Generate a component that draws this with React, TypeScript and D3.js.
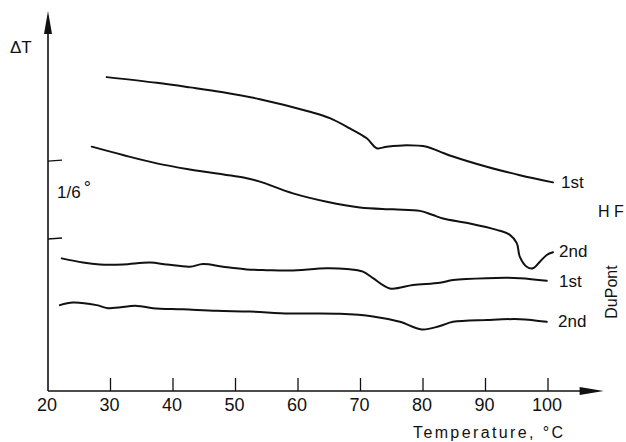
import React from "react";
import * as d3 from "d3";

// Temperature (°C) and ΔT (arbitrary units)
const hf1T = [29.4, 37.4, 42.7, 48.0, 53.9, 61.9, 65.1, 68.3, 71.0, 72.6, 74.2, 77.4, 80.6, 82.7, 84.8, 90.2, 95.5, 100.8];
const hf1V = [82.6, 81.1, 79.9, 78.6, 76.8, 73.5, 71.8, 69.1, 66.5, 63.9, 64.3, 64.7, 64.3, 63.0, 61.7, 59.0, 56.8, 54.9];

const hf2T = [27.0, 32.0, 37.4, 42.7, 51.8, 53.9, 59.2, 64.6, 69.9, 75.2, 79.5, 81.6, 83.2, 87.5, 91.8, 93.9, 95.0, 95.5, 96.6, 97.6, 98.7, 99.8, 100.8];
const hf2V = [64.3, 62.1, 59.9, 58.3, 56.0, 55.1, 52.0, 49.8, 48.3, 47.8, 47.4, 46.3, 45.4, 44.1, 42.4, 41.1, 38.9, 35.3, 32.7, 32.3, 34.0, 35.8, 36.5];

const dp1T = [22.2, 25.6, 28.3, 32.0, 36.3, 39.0, 42.7, 44.8, 48.0, 51.8, 55.0, 58.7, 64.6, 67.8, 70.4, 72.0, 74.7, 78.4, 82.7, 84.8, 90.2, 95.5, 99.8];
const dp1V = [34.9, 33.8, 33.3, 33.3, 33.8, 33.3, 32.7, 33.4, 32.7, 32.0, 31.8, 31.7, 32.3, 32.1, 31.4, 29.7, 27.0, 27.9, 28.5, 29.2, 29.7, 29.7, 29.0];

const dp2T = [21.9, 24.0, 27.8, 29.6, 34.2, 36.8, 41.6, 47.0, 52.3, 58.7, 66.7, 72.0, 76.3, 79.8, 82.7, 84.8, 90.2, 95.5, 99.8];
const dp2V = [22.6, 23.3, 22.6, 21.8, 22.4, 21.8, 21.5, 21.1, 20.9, 20.4, 20.3, 19.6, 18.2, 16.2, 17.1, 18.2, 18.7, 18.9, 18.2];

const xTicks = [20, 30, 40, 50, 60, 70, 80, 90, 100];
const yTicks = [60.5, 40.0];
const seriesLabels = ["1st", "2nd", "1st", "2nd"];

export default function App() {
  const W = 626, H = 442;
  const x = d3.scaleLinear().domain([20, 100]).range([48, 548]);
  const y = d3.scaleLinear().domain([0, 100]).range([391, 11]);
  const line = d3
    .line<[number, number]>()
    .x((d) => x(d[0]))
    .y((d) => y(d[1]))
    .curve(d3.curveCatmullRom.alpha(0.5));
  const zip = (a: number[], b: number[]) => a.map((t, i) => [t, b[i]] as [number, number]);
  const series = [zip(hf1T, hf1V), zip(hf2T, hf2V), zip(dp1T, dp1V), zip(dp2T, dp2V)];
  const font = "'Liberation Sans', Arial, sans-serif";
  const ink = "#111";
  const x0 = x(20);
  const yb = y(0);
  const xEnd = x(108.9);
  const yTop = y(100);

  return (
    <svg width={W} height={H} style={{ position: "absolute", left: 0, top: 0, background: "#fff" }} fontFamily={font}>
      <rect width={W} height={H} fill="#fff" />
      {/* axes */}
      <line x1={x0} y1={yb} x2={xEnd - 22} y2={yb} stroke={ink} strokeWidth={1.6} />
      <polygon points={`${xEnd},${yb} ${xEnd - 24},${yb - 4} ${xEnd - 24},${yb + 4}`} fill={ink} />
      <line x1={x0} y1={yb} x2={x0} y2={yTop + 20} stroke={ink} strokeWidth={1.6} />
      <polygon points={`${x0},${yTop} ${x0 - 4},${yTop + 23} ${x0 + 4},${yTop + 23}`} fill={ink} />
      {xTicks.map((t) => (
        <g key={t}>
          {t > 20 && <line x1={x(t)} x2={x(t)} y1={yb} y2={yb - 13} stroke={ink} strokeWidth={1.3} />}
          <text x={x(t) - 1} y={411} fontSize={18} textAnchor="middle" fill={ink}>
            {t}
          </text>
        </g>
      ))}
      {yTicks.map((v) => (
        <line key={v} x1={x0} x2={x0 + 14} y1={y(v)} y2={y(v) - 1} stroke={ink} strokeWidth={1.3} />
      ))}
      <text x={10} y={53} fontSize={17} fill={ink}>ΔT</text>
      <text x={57} y={198} fontSize={17} fill={ink}>
        1/6
        <tspan dx={3} dy={-4} fontSize={18}>°</tspan>
      </text>
      <text x={413} y={438} fontSize={16} fill={ink} textLength={150} lengthAdjust="spacing">
        Temperature, °C
      </text>
      {/* curves */}
      {series.map((s, i) => (
        <path key={i} d={line(s) || ""} fill="none" stroke={ink} strokeWidth={2} strokeLinejoin="round" strokeLinecap="round" />
      ))}
      {/* series labels */}
      <text x={561} y={188} fontSize={17} fill={ink}>{seriesLabels[0]}</text>
      <text x={559} y={257} fontSize={17} fill={ink}>{seriesLabels[1]}</text>
      <text x={559} y={287} fontSize={17} fill={ink}>{seriesLabels[2]}</text>
      <text x={558} y={327} fontSize={17} fill={ink}>{seriesLabels[3]}</text>
      <text x={598} y={217} fontSize={16} fill={ink}>H F</text>
      <text transform="translate(617,292) rotate(-90)" fontSize={16} textAnchor="middle" fill={ink}>DuPont</text>
    </svg>
  );
}
